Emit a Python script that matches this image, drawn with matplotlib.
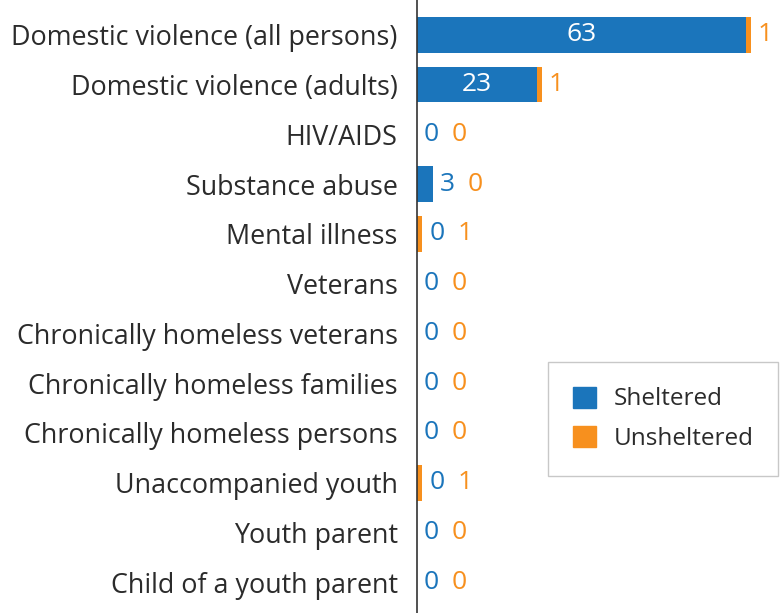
import matplotlib.pyplot as plt
from matplotlib.patches import Patch

categories = [
    "Domestic violence (all persons)",
    "Domestic violence (adults)",
    "HIV/AIDS",
    "Substance abuse",
    "Mental illness",
    "Veterans",
    "Chronically homeless veterans",
    "Chronically homeless families",
    "Chronically homeless persons",
    "Unaccompanied youth",
    "Youth parent",
    "Child of a youth parent",
]
sheltered = [63, 23, 0, 3, 0, 0, 0, 0, 0, 0, 0, 0]
unsheltered = [1, 1, 0, 0, 1, 0, 0, 0, 0, 1, 0, 0]

blue = "#1b75bb"
orange = "#f7901e"
plt.rcParams["font.family"] = ["Open Sans", "DejaVu Sans"]

fig = plt.figure(figsize=(7.81, 6.13), dpi=100)
ax = fig.add_axes([0.534, 0.0, 0.466, 1.0])

y = list(range(len(categories)))
ax.barh(y, sheltered, height=0.72, color=blue)
ax.barh(y, unsheltered, left=sheltered, height=0.72, color=orange)

ax.set_xlim(0, 69.7)
ax.set_ylim(11.62, -0.70)
ax.set_yticks(y)
ax.set_yticklabels(categories, fontsize=19.4, color="#2b2b2b")
ax.tick_params(axis="y", length=0, pad=14)
ax.set_xticks([])
for s in ["top", "right", "bottom"]:
    ax.spines[s].set_visible(False)
ax.spines["left"].set_color("#333333")
ax.spines["left"].set_linewidth(1.2)

# value labels
for i, (s, u) in enumerate(zip(sheltered, unsheltered)):
    total = s + u
    if s >= 10:
        ax.text(s / 2, i, str(s), color="white", ha="center", va="center",
                fontsize=19)
        ax.annotate(str(u), (total, i), xytext=(6, 0), textcoords="offset pixels",
                    color=orange, ha="left", va="center", fontsize=19)
    else:
        ax.annotate(str(s), (total, i), xytext=(7, 0), textcoords="offset pixels",
                    color=blue, ha="left", va="center", fontsize=19)
        ax.annotate(str(u), (total, i), xytext=(35, 0), textcoords="offset pixels",
                    color=orange, ha="left", va="center", fontsize=19)

handles = [Patch(color=blue, label="Sheltered"), Patch(color=orange, label="Unsheltered")]
leg = fig.legend(handles=handles, loc="upper left", bbox_to_anchor=(0.702, 0.409),
                 borderaxespad=0, fontsize=17.5, frameon=True, fancybox=False,
                 edgecolor="#bbbbbb", handlelength=0.95, handleheight=0.95,
                 borderpad=1.0, labelspacing=0.62, handletextpad=0.75)
for t in leg.get_texts():
    t.set_color("#2b2b2b")

plt.savefig("out.png", dpi=100)
